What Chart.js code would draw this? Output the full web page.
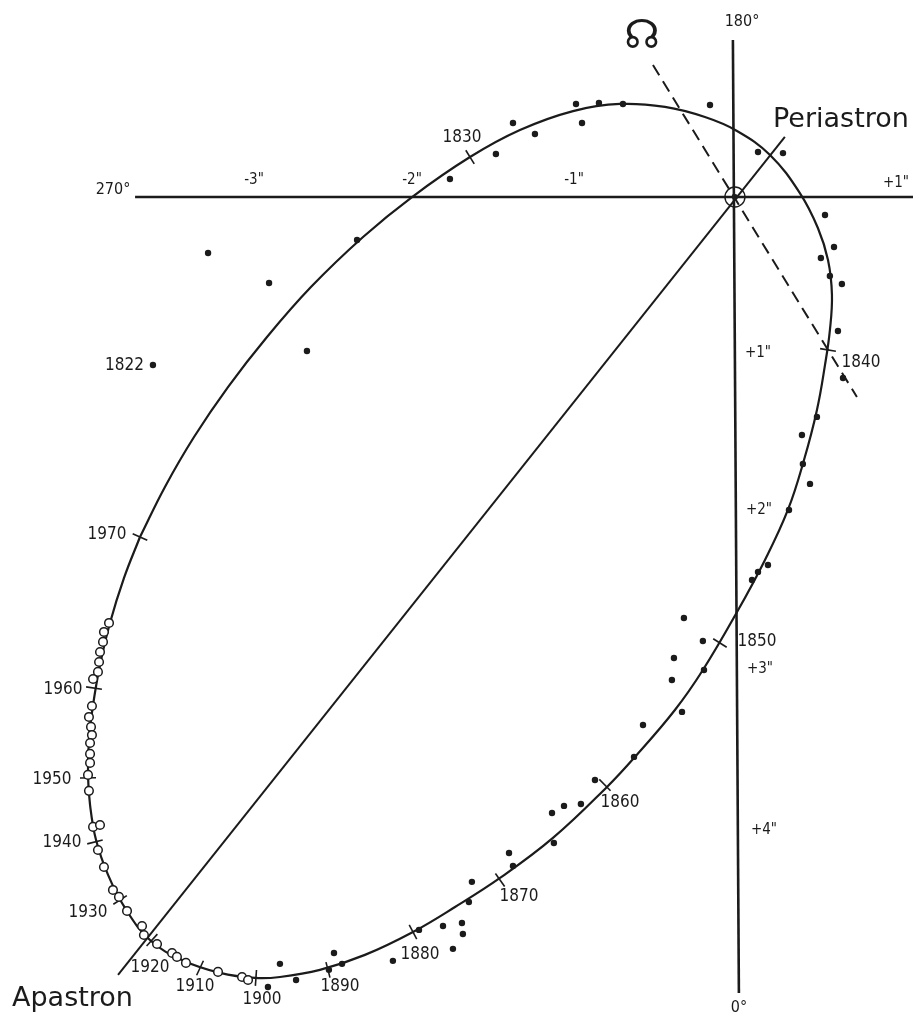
<!DOCTYPE html>
<html>
<head>
<meta charset="utf-8">
<title>Apparent orbit</title>
<script src="https://cdn.jsdelivr.net/npm/chart.js@4/dist/chart.umd.min.js"></script>
<style>
  html, body { margin: 0; padding: 0; background: #fff; }
  #wrap { position: relative; width: 913px; height: 1019px; }
</style>
</head>
<body>
<div id="wrap"><canvas id="orbit"></canvas></div>
<script>
// Offsets of the companion in arcseconds: dx to the right, dy downward (0° at the bottom).

// Apparent orbit, traced round from 1970 clockwise
const orbitDx = [-3.766,-3.608,-3.424,-3.209,-2.962,-2.684,-2.354,-2.044,-1.677,-1.361,-1.025,-0.728,-0.443,-0.190,0.013,0.222,0.411,0.525,0.589,0.614,0.601,0.570,0.519,0.437,0.335,0.190,0.013,-0.203,-0.380,-0.633,-0.810,-1.152,-1.487,-1.772,-2.038,-2.342,-2.627,-2.880,-3.038,-3.259,-3.500,-3.703,-3.861,-3.968,-4.044,-4.082,-4.095,-4.089,-4.063,-4.019,-3.956,-3.867,-3.766];
const orbitDy = [2.152,1.835,1.519,1.203,0.886,0.570,0.253,0.000,-0.253,-0.424,-0.544,-0.589,-0.570,-0.506,-0.418,-0.266,-0.025,0.196,0.399,0.620,0.842,1.063,1.348,1.665,1.981,2.297,2.627,2.994,3.247,3.544,3.734,4.057,4.310,4.494,4.652,4.797,4.892,4.937,4.943,4.911,4.829,4.703,4.500,4.291,4.070,3.848,3.658,3.437,3.215,2.962,2.696,2.411,2.152];

// Visual measures (filled dots), the first one is 1822
const visualDx = [-3.684,-3.335,-2.949,-2.709,-2.392,-1.804,-1.513,-1.405,-1.266,-1.006,-0.968,-0.861,-0.709,-0.158,0.146,0.304,0.570,0.627,0.544,0.601,0.677,0.652,0.684,0.519,0.424,0.430,0.475,0.342,0.209,0.146,0.108,-0.323,-0.203,-0.386,-0.399,-0.196,-0.335,-0.582,-0.639,-0.886,-0.975,-1.082,-1.158,-1.146,-1.430,-1.405,-1.665,-1.684,-1.728,-1.722,-1.785,-1.848,-2.000,-2.165,-2.487,-2.538,-2.570,-2.778,-2.956,-2.880];
const visualDy = [1.063,0.354,0.544,0.975,0.272,-0.114,-0.272,-0.468,-0.399,-0.589,-0.468,-0.595,-0.589,-0.582,-0.285,-0.278,0.114,0.316,0.386,0.500,0.551,0.848,1.146,1.392,1.506,1.690,1.816,1.981,2.329,2.373,2.424,2.665,2.810,2.918,3.057,2.994,3.259,3.342,3.544,3.690,3.842,3.854,3.899,4.089,4.152,4.234,4.335,4.462,4.595,4.665,4.759,4.614,4.639,4.835,4.854,4.785,4.892,4.956,5.000,4.854];

// Later measures (open circles)
const laterDx = [-3.962,-3.994,-4.000,-4.019,-4.025,-4.032,-4.063,-4.070,-4.089,-4.076,-4.070,-4.082,-4.082,-4.082,-4.095,-4.089,-4.063,-4.019,-4.032,-3.994,-3.937,-3.899,-3.848,-3.753,-3.741,-3.658,-3.563,-3.532,-3.475,-3.272,-3.120,-3.082];
const laterDy = [2.696,2.753,2.816,2.880,2.943,3.006,3.051,3.222,3.291,3.354,3.405,3.456,3.525,3.582,3.658,3.759,3.987,3.975,4.133,4.241,4.386,4.430,4.519,4.614,4.671,4.728,4.785,4.810,4.848,4.905,4.937,4.956];

// Decade marks on the orbit
const tickYears = ['1830','1840','1850','1860','1870','1880','1890','1900','1910','1920','1930','1940','1950','1960','1970'];
const tickDx = [-1.677,0.589,-0.095,-0.823,-1.487,-2.038,-2.576,-3.032,-3.386,-3.690,-3.892,-4.051,-4.095,-4.057,-3.766];
const tickDy = [-0.253,0.968,2.823,3.722,4.323,4.652,4.892,4.943,4.880,4.703,4.449,4.082,3.677,3.108,2.152];

// Reference lines
const axisH = [[-3.797, 0], [1.13, 0]];
const axisV = [[-0.013, -0.994], [0.025, 5.038]];
const apsides = [[-3.905, 4.924], [0.316, -0.380]];
const nodes = [[-0.519, -0.835], [0.772, 1.266]];

// Axis labels
const xTickLabels = ['-3"', '-2"', '-1"', '+1"'];
const yTickLabels = ['+1"', '+2"', '+3"', '+4"'];

// ---- layout (pixels) ----
const xTickPos = [[254, 180], [412, 180], [574, 180], [896, 183]];
const yTickPos = [[758, 353], [759, 510], [760, 669], [764, 830]];
const yearOffsets = [[-8,-19],[33,13],[37,-1],[15,18],[19,17],[7,23],[12,17],[6,22],[-5,19],[-2,28],[-32,13],[-33,1],[-36,2],[-31,2],[-33,-2]];
const INK = '#1b1b1b';
const YEAR_FONT = '17px "DejaVu Sans Condensed", "DejaVu Sans", sans-serif';
const SMALL_FONT = '15px "DejaVu Sans Condensed", "DejaVu Sans", sans-serif';
const BIG_FONT = '27px "DejaVu Sans", sans-serif';

const pts = (xs, ys) => xs.map((v, i) => ({ x: v, y: ys[i] }));
const seg = a => a.map(p => ({ x: p[0], y: p[1] }));

// Orientation of each decade mark: across the orbit at its nearest traced point
const tickRotation = tickDx.map((tx, i) => {
  const ty = tickDy[i];
  let best = 0, bd = Infinity;
  for (let k = 0; k < orbitDx.length - 1; k++) {
    const d = (orbitDx[k] - tx) ** 2 + (orbitDy[k] - ty) ** 2;
    if (d < bd) { bd = d; best = k; }
  }
  const n = orbitDx.length - 1;
  const a = (best - 1 + n) % n, b = (best + 1) % n;
  const ang = Math.atan2(orbitDy[b] - orbitDy[a], orbitDx[b] - orbitDx[a]) * 180 / Math.PI;
  return ang + 90;
});

const textLayer = {
  id: 'textLayer',
  afterDatasetsDraw(chart) {
    const { ctx, scales: { x, y } } = chart;
    ctx.save();
    ctx.fillStyle = INK;
    ctx.textAlign = 'center';
    ctx.textBaseline = 'middle';

    ctx.font = YEAR_FONT;
    tickYears.forEach((yr, i) => {
      const px = x.getPixelForValue(tickDx[i]) + yearOffsets[i][0];
      const py = y.getPixelForValue(tickDy[i]) + yearOffsets[i][1];
      ctx.fillText(yr, px, py);
    });
    ctx.textAlign = 'right';
    ctx.fillText('1822', x.getPixelForValue(visualDx[0]) - 9, y.getPixelForValue(visualDy[0]) + 1);

    ctx.textAlign = 'center';
    ctx.font = SMALL_FONT;
    xTickLabels.forEach((t, i) => ctx.fillText(t, xTickPos[i][0], xTickPos[i][1]));
    yTickLabels.forEach((t, i) => ctx.fillText(t, yTickPos[i][0], yTickPos[i][1]));
    ctx.font = '16px "DejaVu Sans Condensed", "DejaVu Sans", sans-serif';
    ctx.fillText('270°', 113, 190);
    ctx.fillText('180°', 742, 22);
    ctx.fillText('0°', 739, 1008);

    ctx.font = BIG_FONT;
    ctx.textAlign = 'left';
    ctx.fillText('Periastron', 773, 120);
    ctx.fillText('Apastron', 12, 999);

    ctx.textAlign = 'center';
    ctx.font = '40px "DejaVu Sans", sans-serif';
    ctx.fillText('\u260A', 642, 38);
    ctx.restore();
  }
};

new Chart(document.getElementById('orbit'), {
  type: 'scatter',
  data: {
    datasets: [
      { label: 'origin', data: [{ x: 0, y: 0 }], pointRadius: 10, pointBackgroundColor: 'rgba(0,0,0,0)', pointBorderColor: INK, pointBorderWidth: 1.4 },
      { label: 'primary', data: [{ x: 0, y: 0 }], pointRadius: 3, pointBackgroundColor: INK, pointBorderWidth: 0 },
      { label: 'later', data: pts(laterDx, laterDy), pointRadius: 4.3, pointBackgroundColor: '#fff', pointBorderColor: INK, pointBorderWidth: 1.5 },
      { label: 'visual', data: pts(visualDx, visualDy), pointRadius: 3.2, pointBackgroundColor: INK, pointBorderWidth: 0 },
      { label: 'decades', data: pts(tickDx, tickDy), pointStyle: 'line', pointRadius: 8, pointRotation: tickRotation, pointBorderColor: INK, pointBorderWidth: 1.6 },
      { label: 'orbit', data: pts(orbitDx, orbitDy), showLine: true, tension: 0.4, borderColor: INK, borderWidth: 2.2, pointRadius: 0 },
      { label: 'apsides', data: seg(apsides), showLine: true, borderColor: INK, borderWidth: 2, pointRadius: 0 },
      { label: 'nodes', data: seg(nodes), showLine: true, borderColor: INK, borderWidth: 2, borderDash: [12, 7], pointRadius: 0 },
      { label: 'axisH', data: seg(axisH), showLine: true, borderColor: INK, borderWidth: 2.6, pointRadius: 0 },
      { label: 'axisV', data: seg(axisV), showLine: true, borderColor: INK, borderWidth: 2.6, pointRadius: 0 }
    ]
  },
  options: {
    responsive: true,
    maintainAspectRatio: false,
    animation: false,
    events: [],
    layout: { padding: 0, autoPadding: false },
    plugins: { legend: { display: false }, tooltip: { enabled: false } },
    scales: {
      x: { type: 'linear', min: -4.652, max: 1.127, display: false },
      y: { type: 'linear', min: -1.247, max: 5.203, reverse: true, display: false }
    }
  },
  plugins: [textLayer]
});
</script>
</body>
</html>
